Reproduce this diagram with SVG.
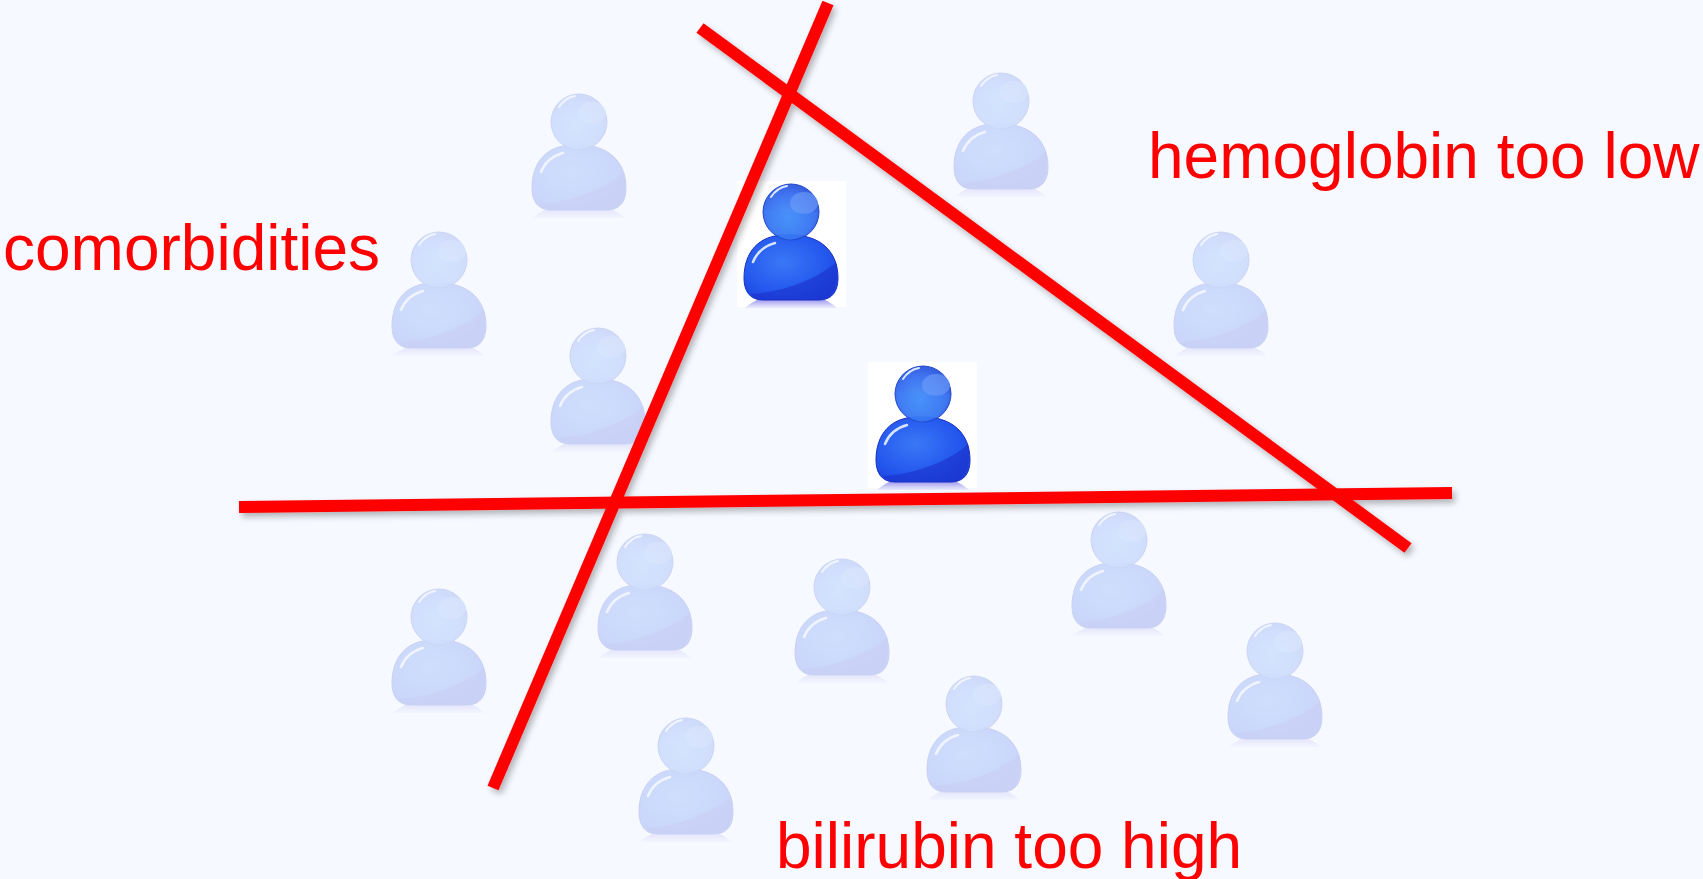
<svg xmlns="http://www.w3.org/2000/svg" width="1703" height="879" viewBox="0 0 1703 879">
<style>
.lbl{font-family:"Liberation Sans",Arial,sans-serif;font-size:64px;fill:#ff0000}
.ln{stroke:#ff0000;stroke-width:12;fill:none}
.light{opacity:.2}
</style>
<defs>
<filter id="sh" x="-10%" y="-10%" width="120%" height="120%"><feDropShadow dx="3" dy="4" stdDeviation="3" flood-color="#000" flood-opacity=".28"/></filter>
<radialGradient id="hg" cx=".45" cy=".6" r=".6"><stop offset="0" stop-color="#3f90fa"/><stop offset=".7" stop-color="#3068f0"/><stop offset="1" stop-color="#2450dc"/></radialGradient>
<radialGradient id="bg" cx=".42" cy=".42" r=".75"><stop offset="0" stop-color="#3a78f6"/><stop offset=".6" stop-color="#2458ee"/><stop offset="1" stop-color="#1b3ed8"/></radialGradient>
<linearGradient id="fl" x1="0" y1="0" x2="0" y2="1"><stop offset="0" stop-color="#a09cf0"/><stop offset="1" stop-color="#a09cf0" stop-opacity=".15"/></linearGradient>
<symbol id="p" overflow="visible">
<path d="M-34 88H34Q42 92 46 96H-46Q-42 92-34 88Z" fill="url(#fl)"/>
<path d="M-28 88C-42 88-47 78-47 66C-47 40-32 23 -6 23C32 21 47 42 47 66C47 78 42 88 28 88Z" fill="url(#bg)" stroke="#1a30c0" stroke-width="1"/>
<path d="M-40 82C-6 80 28 66 45 50C48 60 47 88 28 88H-28C-33 88-37 86-40 82Z" fill="#1a30cc" opacity=".6"/>
<path d="M-38 50C-34 40-27 34-16 31" fill="none" stroke="#d6e4ff" stroke-width="2.5" stroke-linecap="round"/>
<circle r="28" fill="url(#hg)" fill-opacity=".92" stroke="#2248cc" stroke-width="1"/>
<ellipse cx="13" cy="-9" rx="14" ry="11" fill="#6f9ff8" opacity=".6"/>
<path d="M-27 -3C-10 0 10 3 27 0C26 14 14 26 -2 28C-16 26-25 12-27 -3Z" fill="#3f86f6" opacity=".35"/>
<path d="M-20 -15C-16 -21-10 -25-4 -26" fill="none" stroke="#dbe8ff" stroke-width="2" stroke-linecap="round"/>
</symbol>
</defs>
<rect width="1703" height="879" fill="#f6f9ff"/>
<g id="person-1" class="light"><use href="#p" x="579" y="122"/></g>
<g id="person-2" class="light"><use href="#p" x="1001" y="101"/></g>
<g id="person-3" class="light"><use href="#p" x="439" y="260"/></g>
<g id="person-4" class="light"><use href="#p" x="1221" y="260"/></g>
<g id="person-5" class="light"><use href="#p" x="598" y="356"/></g>
<g id="person-6" class="light"><use href="#p" x="645" y="562"/></g>
<g id="person-7" class="light"><use href="#p" x="439" y="617"/></g>
<g id="person-8" class="light"><use href="#p" x="842" y="587"/></g>
<g id="person-9" class="light"><use href="#p" x="1119" y="540"/></g>
<g id="person-10" class="light"><use href="#p" x="1275" y="651"/></g>
<g id="person-11" class="light"><use href="#p" x="974" y="704"/></g>
<g id="person-12" class="light"><use href="#p" x="686" y="746"/></g>
<g id="person-13"><rect x="737" y="181" width="109" height="126" fill="#fff"/><use href="#p" x="791" y="212"/></g>
<g id="person-14"><rect x="868" y="362" width="109" height="126" fill="#fff"/><use href="#p" x="923" y="394"/></g>
<g id="connectors" filter="url(#sh)">
<line class="ln" x1="239" y1="507" x2="1452" y2="493"/>
<line class="ln" x1="700" y1="28" x2="1408" y2="548"/>
<line class="ln" x1="828" y1="3" x2="493" y2="788"/>
</g>
<text class="lbl" x="3" y="270">comorbidities</text>
<text class="lbl" x="1148" y="178">hemoglobin too low</text>
<text class="lbl" x="776" y="868">bilirubin too high</text>
</svg>
